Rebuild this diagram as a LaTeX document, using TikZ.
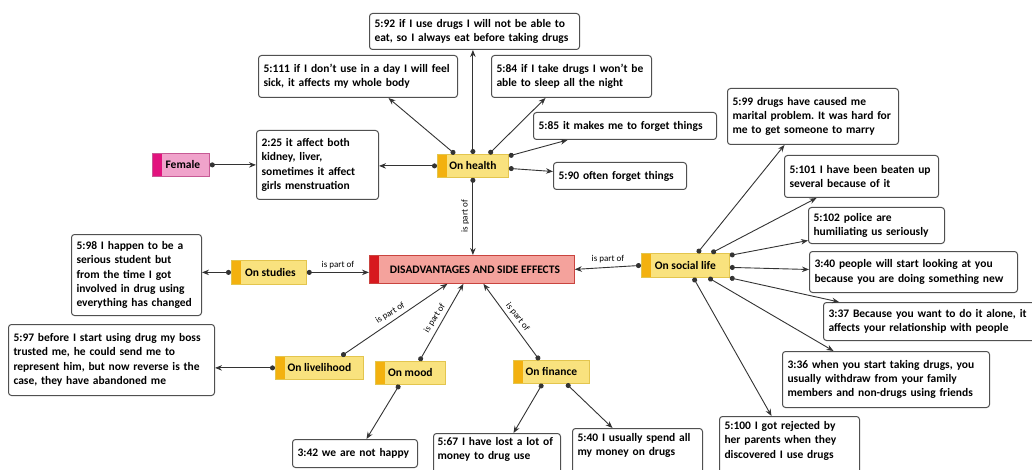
\documentclass[tikz,border=0pt]{standalone}
\usepackage{fontspec}
\setmainfont{Carlito}
\frenchspacing
\usetikzlibrary{arrows.meta}
\definecolor{linkc}{HTML}{333333}
\definecolor{qborder}{HTML}{505050}
\definecolor{codefill}{HTML}{F9E27E}
\definecolor{codeborder}{HTML}{E3C54E}
\definecolor{codebar}{HTML}{F3B10F}
\definecolor{disfill}{HTML}{F4A29C}
\definecolor{disborder}{HTML}{C9443F}
\definecolor{disbar}{HTML}{D7191F}
\definecolor{femfill}{HTML}{F0A3CB}
\definecolor{femborder}{HTML}{C75A95}
\definecolor{fembar}{HTML}{E2137E}
\tikzset{
  barfill/.style={path picture={\fill[#1] (path picture bounding box.north west) rectangle ([xshift=10pt]path picture bounding box.south west);}},
  tagbase/.style={line width=0.8pt, inner sep=0pt, anchor=north west, font=\fontsize{11.5}{13}\selectfont\bfseries},
  codebox/.style={tagbase, draw=codeborder, fill=codefill, barfill=codebar},
  disbox/.style={tagbase, draw=disborder, fill=disfill, barfill=disbar},
  fembox/.style={tagbase, draw=femborder, fill=femfill, barfill=fembar},
  qbox/.style={draw=qborder, fill=white, line width=1pt, rounded corners=3pt, anchor=north west, align=left, inner xsep=5pt, inner ysep=3pt, font=\fontsize{11.5}{14.4}\selectfont\bfseries},
  link/.style={draw=linkc, line width=0.9pt, {Circle[length=5pt]}-{Stealth[length=7pt,width=5.5pt]}},
  lbl/.style={font=\fontsize{9}{10}\selectfont, inner xsep=1pt, inner ysep=3.5pt, text=black}
}
\begin{document}
\begin{tikzpicture}[x=1pt,y=-1pt]
\useasboundingbox (0,0) rectangle (1032,470);
% code nodes
\node[fembox, minimum width=57pt, minimum height=23pt] (female) at (152,153) {\hspace*{4pt}Female};
\node[codebox, minimum width=71pt, minimum height=23pt] (health) at (437,154) {On health};
\node[codebox, minimum width=75pt, minimum height=24pt] (studies) at (231,260) {\hspace*{3pt}On studies};
\node[codebox, minimum width=88pt, minimum height=24pt] (social) at (641,253) {On social life};
\node[codebox, minimum width=88pt, minimum height=23pt] (livelihood) at (275,356) {On livelihood};
\node[codebox, minimum width=70pt, minimum height=23pt] (mood) at (375,361) {On mood};
\node[codebox, minimum width=76pt, minimum height=23pt] (finance) at (513,360) {On finance};
\node[disbox, minimum width=205pt, minimum height=28pt] (dis) at (369,255) {\hspace*{6pt}DISADVANTAGES AND SIDE EFFECTS};
% quotation nodes
\node[qbox, text width=200pt, minimum height=36pt] (q592) at (369,13) {5:92 if I use drugs I will not be able to\\eat, so I always eat before taking drugs};
\node[qbox, text width=189pt, minimum height=42pt] (q5111) at (258,55) {5:111 if I don’t use in a day I will feel\\sick, it affects my whole body};
\node[qbox, text width=150pt, minimum height=42pt] (q584) at (491,55) {5:84 if I take drugs I won’t be\\able to sleep all the night};
\node[qbox, text width=173pt, minimum height=27pt] (q585) at (533,112) {5:85 it makes me to forget things};
\node[qbox, text width=123pt, minimum height=27pt] (q590) at (553,162) {5:90 often forget things};
\node[qbox, text width=112pt, minimum height=69pt] (q225) at (256,130) {2:25 it affect both\\kidney, liver,\\sometimes it affect\\girls menstruation};
\node[qbox, text width=161pt, minimum height=56pt] (q599) at (727,88) {5:99 drugs have caused me\\marital problem. It was hard for\\me to get someone to marry};
\node[qbox, text width=144pt, minimum height=42pt] (q5101) at (784,155) {5:101 I have been beaten up\\several because of it};
\node[qbox, text width=126pt, minimum height=36pt] (q5102) at (808,207) {5:102 police are\\humiliating us seriously};
\node[qbox, text width=198pt, minimum height=41pt] (q340) at (809,251) {3:40 people will start looking at you\\because you are doing something new};
\node[qbox, text width=203pt, minimum height=38pt] (q337) at (823,302) {3:37 Because you want to do it alone, it\\affects your relationship with people};
\node[qbox, text width=197pt, minimum height=56pt] (q336) at (782,351) {3:36 when you start taking drugs, you\\usually withdraw from your family\\members and non-drugs using friends};
\node[qbox, text width=130pt, inner ysep=5pt] (q5100) at (719,416) {5:100 I got rejected by\\her parents when they\\discovered I use drugs\\\mbox{}};
\node[qbox, text width=120pt, inner ysep=5pt] (q540) at (572,428) {5:40 I usually spend all\\my money on drugs\\\mbox{}};
\node[qbox, text width=119pt, inner xsep=4pt, inner ysep=4pt] (q567) at (433,433) {5:67 I have lost a lot of\\money to drug use\\\mbox{}};
\node[qbox, text width=115pt, minimum height=28pt] (q342) at (292,439) {3:42 we are not happy};
\node[qbox, text width=120pt, minimum height=81pt] (q598) at (71,234) {5:98 I happen to be a\\serious student but\\from the time I got\\involved in drug using\\everything has changed};
\node[qbox, text width=196pt, minimum height=71pt] (q597) at (8,324) {5:97 before I start using drug my boss\\trusted me, he could send me to\\represent him, but now reverse is the\\case, they have abandoned me};
% links: on health
\draw[link] (health.north) -- (health.north |- q592.south);
\draw[link] ([xshift=-18pt]health.north) -- ([xshift=30.5pt]q5111.south);
\draw[link] ([xshift=16pt]health.north) -- ([xshift=-26pt]q584.south);
\draw[link] ([yshift=-2pt]health.north east) -- ([xshift=-57.5pt]q585.south);
\draw[link] ([yshift=-2.5pt]health.east) -- ([yshift=4.5pt]q590.west);
\draw[link] (health.west) -- (health.west -| q225.east);
\draw[link] (female.east) -- (female.east -| q225.west);
\draw[link] (health.south) -- node[lbl, rotate=90, anchor=south, pos=0.5] {is part of} (health.south |- dis.north);
% studies
\draw[link] (studies.east) -- node[lbl, anchor=south] {is part of} (studies.east -| dis.west);
\draw[link] (studies.west) -- (studies.west -| q598.east);
% social
\draw[link] (social.west) -- node[lbl, anchor=south] {is part of} (dis.east);
\draw[link] ([xshift=12pt]social.north) -- ([xshift=-28.5pt]q599.south);
\draw[link] ([xshift=26pt]social.north) -- ([xshift=-45pt]q5101.south);
\draw[link] ([yshift=10pt]social.east) -- ([yshift=-15pt]q5102.west);
\draw[link] ([yshift=-2pt]social.east) -- ([yshift=2.5pt]q340.west);
\draw[link] (social.south east) -- ([xshift=16pt]q337.north west);
\draw[link] ([xshift=8pt]social.south) -- ([xshift=-18pt]q5100.north);
\draw[link] ([xshift=23pt]social.south) -- ([xshift=-52.5pt]q336.north);
% livelihood, mood, finance
\draw[link] (livelihood.west) -- (livelihood.west -| q597.east);
\draw[link] ([xshift=22pt]livelihood.north) -- node[lbl, rotate=32, anchor=south] {is part of} ([xshift=-24.5pt]dis.south);
\draw[link] ([xshift=9pt]mood.north) -- node[lbl, rotate=58, anchor=south] {is part of} ([xshift=-8.5pt]dis.south);
\draw[link] ([xshift=-11pt]mood.south) -- ([xshift=11.5pt]q342.north);
\draw[link] ([xshift=-12pt]finance.north) -- node[lbl, rotate=-52, anchor=south] {is part of} ([xshift=11.5pt]dis.south);
\draw[link] ([xshift=-9pt]finance.south) -- ([xshift=16.5pt]q567.north);
\draw[link] ([xshift=15pt]finance.south) -- ([xshift=-25pt]q540.north);
\end{tikzpicture}
\end{document}
